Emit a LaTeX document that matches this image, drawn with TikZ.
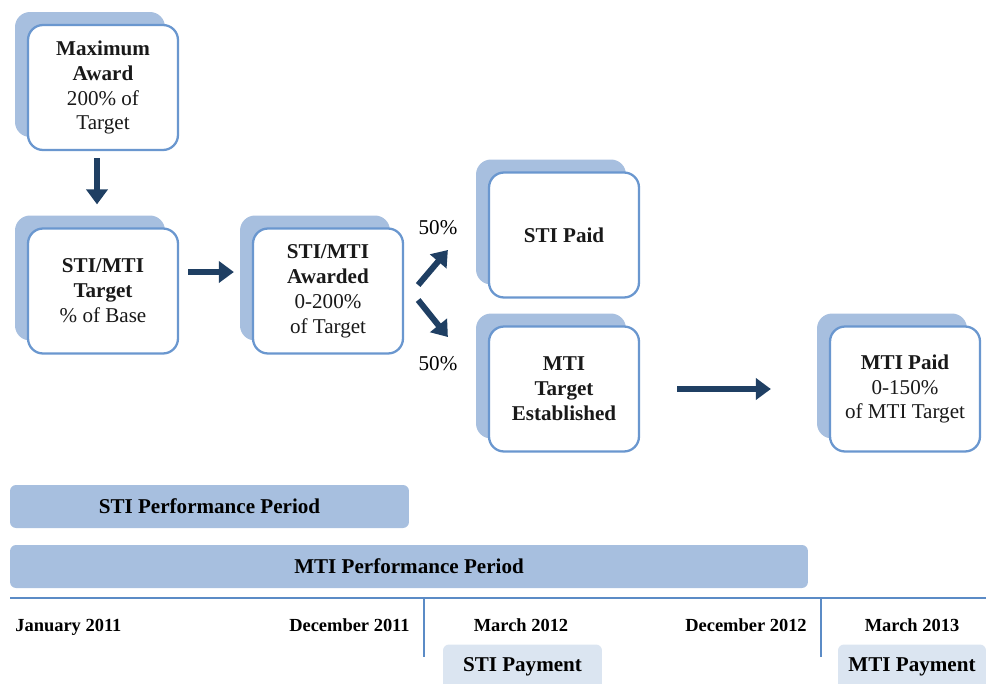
\documentclass[tikz,border=0pt]{standalone}
\usepackage{fontspec}
\setmainfont{Liberation Serif}
\usepackage{tikz}
\usetikzlibrary{positioning}
\usetikzlibrary{shadows}
\usetikzlibrary{arrows.meta}

\definecolor{shadeblue}{HTML}{A7BFDF}
\definecolor{edgeblue}{HTML}{6A97CF}
\definecolor{arrowblue}{HTML}{1F3F63}
\definecolor{paleblue}{HTML}{DBE5F1}
\definecolor{lineblue}{HTML}{5B8BC6}

\begin{document}
\begin{tikzpicture}[x=0.02cm, y=-0.02cm]
    \tikzstyle{step-box} = [draw=edgeblue, line width=1.3pt, fill=white, rectangle, rounded corners=0.3cm, minimum width=3cm, minimum height=2.5cm, align=center, text=black!90, font=\fontsize{12}{14.2}\selectfont, general shadow={shadow xshift=-0.26cm, shadow yshift=0.26cm, fill=shadeblue}];
    \tikzstyle{period} = [fill=shadeblue, rounded corners=0.12cm, minimum height=0.86cm, inner sep=0pt, font=\fontsize{12}{14.2}\selectfont\bfseries];
    \tikzstyle{payment} = [fill=paleblue, rounded corners=0.12cm, minimum height=0.9cm, inner sep=0pt, font=\fontsize{12}{14.2}\selectfont\bfseries];
    \tikzstyle{date} = [inner sep=0pt, anchor=base, font=\fontsize{10.5}{12}\selectfont\bfseries];
    \tikzstyle{share} = [inner sep=0pt, font=\fontsize{12}{14.2}\selectfont];
    \tikzstyle{pointer} = [arrowblue, line width=0.12cm, -{Triangle[length=0.3cm, width=0.42cm]}];
    \tikzstyle{timeline} = [lineblue, line width=1.2pt];

    \clip (0, 0) rectangle (986, 683);

    % award boxes
    \node[step-box] (max-award) at (103, 87.5) {\textbf{Maximum}\\\textbf{Award}\\200\% of\\Target};
    \node[step-box] (sti-target) at (103, 291) {\textbf{STI/MTI}\\\textbf{Target}\\\% of Base};
    \node[step-box] (awarded) at (328, 291) {\textbf{STI/MTI}\\\textbf{Awarded}\\0-200\%\\of Target};
    \node[step-box] (sti-paid) at (564, 235) {\textbf{STI Paid}};
    \node[step-box] (mti-target) at (564, 389) {\textbf{MTI}\\\textbf{Target}\\\textbf{Established}};
    \node[step-box] (mti-paid) at (905, 389) {\textbf{MTI Paid}\\0-150\%\\of MTI Target};

    \node[share] (share-up) at (438, 228) {50\%};
    \node[share] (share-down) at (438, 364) {50\%};

    \draw [pointer, shorten <=0.14cm, shorten >=0.46cm] ([xshift=-0.12cm]max-award.south) -- ([xshift=-0.12cm]sti-target.north);
    \draw [pointer, shorten <=0.18cm, shorten >=0.36cm] ([yshift=0.38cm]sti-target.east) -- ([yshift=0.38cm]awarded.west);
    \draw [pointer] ([xshift=0.28cm, yshift=0.12cm]awarded.east) -- ([xshift=-0.8cm, yshift=-0.3cm]sti-paid.west);
    \draw [pointer] ([xshift=0.28cm, yshift=-0.18cm]awarded.east) -- ([xshift=-0.8cm, yshift=1.04cm]mti-target.west);
    \draw [pointer, shorten <=0.74cm, shorten >=1.16cm] (mti-target.east) -- (mti-paid.west);

    % periods
    \node[period, minimum width=7.98cm] (sti-period) at (209.5, 506.5) {STI Performance Period};
    \node[period, minimum width=15.96cm] (mti-period) at (409, 566.5) {MTI Performance Period};

    % timeline
    \coordinate (line-start) at (10, 598);
    \coordinate (line-end) at (986, 598);
    \coordinate (tick-a-top) at (424, 598);
    \coordinate (tick-a-bot) at (424, 657);
    \coordinate (tick-b-top) at (821, 598);
    \coordinate (tick-b-bot) at (821, 657);
    \draw [timeline] (line-start) -- (line-end);
    \draw [timeline] (tick-a-top) -- (tick-a-bot);
    \draw [timeline] (tick-b-top) -- (tick-b-bot);

    \node[date, anchor=base west] (jan-11) at (15, 631) {January 2011};
    \node[date, anchor=base east] (dec-11) at (410, 631) {December 2011};
    \node[date] (mar-12) at (521, 631) {March 2012};
    \node[date] (dec-12) at (746, 631) {December 2012};
    \node[date] (mar-13) at (912, 631) {March 2013};

    \node[payment, minimum width=3.18cm] (sti-pay) at (522.5, 667) {STI Payment};
    \node[payment, minimum width=2.96cm] (mti-pay) at (912, 667) {MTI Payment};
\end{tikzpicture}
\end{document}
